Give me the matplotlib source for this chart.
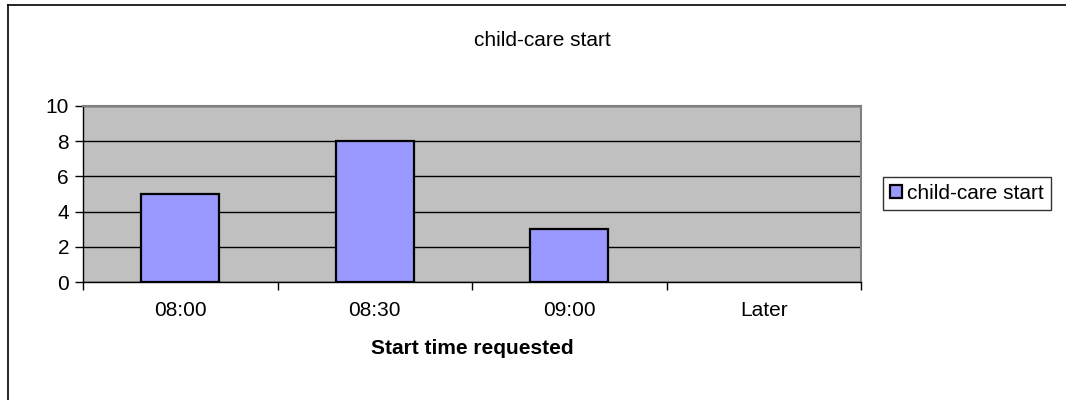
#!/usr/bin/env python3

import numpy as np
import matplotlib
matplotlib.use('Agg')
import matplotlib.pyplot as plt
from matplotlib.lines import Line2D

plt.rcParams['font.family'] = ['Liberation Sans', 'DejaVu Sans']

categories = ['08:00', '08:30', '09:00', 'Later']
counts = [5, 8, 3, 0]
series_name = 'child-care start'
yticks = [0, 2, 4, 6, 8, 10]

W, H = 1066, 400
FS = 15
fig = plt.figure(figsize=(W / 100, H / 100), dpi=100)
fig.patch.set_facecolor('white')

# plot area in pixels: x 83..861, y 106..282
ax = fig.add_axes([83 / W, 1 - 282 / H, (861 - 83) / W, (282 - 106) / H])
ax.set_facecolor('#C0C0C0')

x = np.arange(len(categories))
edges = ['black' if v > 0 else 'none' for v in counts]
ax.bar(x, counts, width=0.4, color='#9999FF', edgecolor=edges, linewidth=1.6,
       label=series_name, zorder=3)

ax.set_xlim(-0.5, len(categories) - 0.5)
ax.set_ylim(0, 10)
ax.set_yticks(yticks)
ax.yaxis.grid(True, color='black', linewidth=1.0, zorder=1)
ax.set_axisbelow(True)

# category labels at centres, tick marks at boundaries
ax.set_xticks(x)
ax.set_xticklabels(categories, fontsize=FS)
ax.tick_params(axis='x', which='major', length=0, pad=14)
ax.set_xticks(np.arange(len(categories) + 1) - 0.5, minor=True)
ax.tick_params(axis='x', which='minor', length=6, width=1, color='black', direction='out')
ax.tick_params(axis='y', labelsize=FS, length=6, width=1, direction='out', pad=4)

for side in ['top', 'right']:
    ax.spines[side].set_color('#808080')
    ax.spines[side].set_linewidth(1.5)
for side in ['left', 'bottom']:
    ax.spines[side].set_color('black')
    ax.spines[side].set_linewidth(1.0)

fig.text(542 / W, 1 - 41 / H, 'child-care start', fontsize=FS, ha='center', va='center')
fig.text(472 / W, 1 - 349 / H, 'Start time requested', fontsize=FS, fontweight='bold',
         ha='center', va='center')

leg = ax.legend(loc='center left', bbox_to_anchor=(883 / W, 1 - 193.5 / H),
                bbox_transform=fig.transFigure, fontsize=FS, frameon=True, fancybox=False,
                handlelength=0.55, handleheight=0.55, handletextpad=0.25,
                borderpad=0.35, borderaxespad=0, labelspacing=0.2)
leg.get_frame().set_edgecolor('black')
leg.get_frame().set_linewidth(1.0)
for h in leg.legend_handles:
    h.set_edgecolor('black')
    h.set_linewidth(1.6)

# outer chart border (left and top visible)
fig.add_artist(Line2D([8 / W, 8 / W], [0, 1 - 5 / H], color='black', linewidth=1.2,
                      transform=fig.transFigure))
fig.add_artist(Line2D([8 / W, 1], [1 - 5 / H, 1 - 5 / H], color='black', linewidth=1.2,
                      transform=fig.transFigure))

fig.savefig('out.png', dpi=100)
